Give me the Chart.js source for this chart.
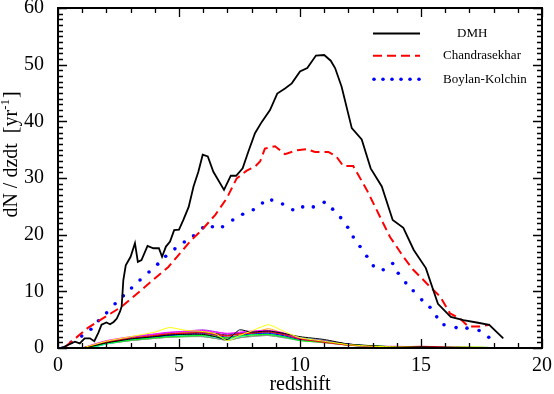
<!DOCTYPE html>
<html>
<head>
<meta charset="utf-8">
<script src="https://cdn.jsdelivr.net/npm/chart.js@4.4.1/dist/chart.umd.min.js"></script>
<style>
  html, body { margin: 0; padding: 0; background: #fff; }
  canvas { display: block; }
</style>
</head>
<body>
<canvas id="mergerChart" width="554" height="394"></canvas>
<script>
// ---- data ----
// DMH (solid black)
const zDMH = [0.15,0.5,0.7,0.9,1.1,1.32,1.5,1.67,1.8,2.0,2.15,2.3,2.43,2.56,2.63,2.7,2.8,3.0,3.18,3.3,3.45,3.7,3.94,4.17,4.3,4.46,4.63,4.8,5.0,5.18,5.4,5.6,5.8,5.98,6.19,6.42,6.86,7.14,7.36,7.63,7.86,8.14,8.42,8.76,9.06,9.38,9.66,10.0,10.3,10.66,11.0,11.27,11.45,11.72,12.14,12.55,12.92,13.38,13.83,14.27,14.7,15.2,15.7,16.23,16.75,17.3,17.82,18.4];
const nDMH = [0,0.7,1.1,0.8,1.7,1.7,1.2,2.7,4.1,4.5,4.2,4.6,5.2,6.4,7.3,12,14.6,16.1,18.5,15.2,15.5,18,17.6,17.6,16.1,17.9,18.8,20.8,20.9,22.6,24.9,28.5,31.1,34.1,33.8,31.1,27.9,30.4,30.4,31.7,34.6,37.9,39.9,42,44.9,45.8,46.7,48.8,49.4,51.6,51.7,50.7,49.4,46.1,38.8,36.8,31.7,28.5,22.6,21.2,17.3,14.1,7.8,5.5,4.9,4.5,4.1,1.7];

// Chandrasekhar (dashed red)
const zChandra = [0.3,1.25,2.63,3.6,4.56,5.52,5.94,6.5,6.97,7.38,7.8,8.14,8.35,8.55,8.97,9.38,9.86,10.28,10.62,11.17,11.5,11.79,12.2,12.76,13.3,13.72,14.27,14.68,15.1,15.37,15.79,16.2,16.61,16.95,17.44,17.85];
const nChandra = [0.2,3.6,7.3,10.8,14.3,19.1,20.8,23.5,26.4,29.9,31.3,32,32.9,35.2,35.6,34.2,34.9,35.1,34.6,34.6,33.8,32.1,32.1,27.9,23.2,19.6,16.1,13.8,12,10.8,9.1,6.1,5.2,3.8,3.8,4.1];

// Boylan-Kolchin (dotted blue)
const zBK = [0.18,0.54,0.98,1.36,1.67,2.01,2.36,2.7,3.04,3.39,3.76,4.12,4.45,4.83,5.22,5.6,5.98,6.38,6.8,7.22,7.63,8.07,8.45,8.83,9.28,9.7,10.11,10.55,11.0,11.35,11.68,11.97,12.2,12.48,12.76,13.03,13.44,13.83,14.06,14.37,14.68,15.03,15.37,15.65,15.95,16.45,16.9,17.4,17.8];
const nBK = [0,1.0,2.1,3.3,4.8,6.2,7.8,9.2,10.6,12,13.4,14.8,16.2,17.5,18.7,19.8,21.2,21.4,21.4,22.6,23.6,24.4,25.6,26.1,25.4,24.4,24.9,24.9,25.7,24.5,23,21.3,19.6,17.9,16.2,14.5,13.8,14.9,13.2,11.5,10.1,8.5,7.2,5.5,4.1,3.6,3.5,3.1,1.9];

// individual realisations (thin lines at the bottom)
const zSmall = [1,1.5,2,3,4,4.6,5.3,6,6.5,7,7.5,8,8.7,9.3,10,11,12,13,14,15,16,17,17.8];
const smallYellow    = [0,0.6,1.2,2.0,2.8,3.6,3.1,2.9,2.5,1.3,2.2,3.0,4.1,3.0,1.8,1.2,0.6,0.3,0.2,0.1,0.1,0.2,0.1];
const smallBlack     = [0,0.4,0.9,1.6,2.0,2.3,2.4,2.4,2.0,1.5,3.2,2.8,3.0,2.6,2.0,1.5,0.7,0.4,0.2,0.2,0.1,0.1,0.05];
const smallRed       = [0,0.5,1.0,1.7,2.2,2.5,2.6,2.7,2.4,2.1,2.5,2.6,2.9,2.4,1.6,1.0,0.5,0.3,0.2,0.3,0.2,0.1,0.05];
const smallGreen     = [0,0.3,0.8,1.4,1.8,2.0,2.1,2.2,2.0,1.8,2.1,2.3,2.4,2.0,1.3,1.0,0.6,0.4,0.2,0.1,0.1,0.1,0.05];
const smallBlue      = [0,0.4,0.9,1.6,2.0,2.2,2.5,2.6,2.3,1.9,2.2,2.5,2.6,2.2,1.5,1.2,0.7,0.3,0.2,0.2,0.1,0.1,0];
const smallMagenta   = [0,0.7,1.3,2.0,2.5,2.8,2.9,3.1,2.8,2.6,2.8,3.0,3.1,2.7,1.7,1.3,0.6,0.3,0.3,0.2,0.1,0.1,0];
const smallCyan      = [0,0.2,0.7,1.5,1.9,2.1,2.3,2.2,1.9,1.5,2.0,2.4,2.5,2.1,1.8,1.3,0.6,0.3,0.2,0.2,0.2,0.2,0.1];
const smallViolet    = [0,0.6,1.2,1.9,2.4,2.7,3.0,3.2,2.9,2.5,2.7,2.9,3.0,2.5,1.7,1.2,0.7,0.3,0.2,0.2,0.1,0.1,0];
const smallGrey      = [0,0.3,0.8,1.3,1.7,1.9,2.0,2.0,1.7,1.3,1.8,2.0,2.2,1.8,1.3,0.9,0.5,0.2,0.1,0.1,0.1,0,0];
const smallBrown     = [0,0.4,1.0,1.6,2.1,2.4,2.6,2.8,2.5,2.2,2.5,2.8,2.8,2.4,1.6,1.1,0.6,0.3,0.2,0.1,0.1,0.1,0];
const smallOrange    = [0,0.5,1.1,1.8,2.3,2.6,2.7,2.5,2.2,1.8,2.3,2.6,3.4,2.6,1.6,1.1,0.5,0.3,0.2,0.1,0.1,0.2,0.1];
const smallIndigo    = [0,0.5,1.1,1.8,2.2,2.5,2.8,2.9,2.6,2.3,2.6,2.7,2.8,2.4,1.7,1.2,0.6,0.3,0.2,0.2,0.1,0.1,0];
const smallTurquoise = [0,0.3,0.9,1.6,2.0,2.2,2.3,2.3,2.0,1.7,2.1,2.4,2.4,2.0,1.5,1.1,0.5,0.2,0.2,0.2,0.1,0.1,0.1];
const smallGreen4    = [0,0.2,0.7,1.3,1.7,1.9,2.0,2.0,1.7,1.4,1.8,2.1,2.2,1.9,1.4,1.0,0.5,0.3,0.2,0.1,0.1,0.1,0];
const smallMaroon    = [0,0.4,0.9,1.5,1.9,2.1,2.2,2.3,2.1,1.6,2.2,2.5,2.5,2.1,1.4,1.0,0.6,0.3,0.2,0.1,0.1,0.1,0];

const smallSeries = [smallYellow, smallBlack, smallRed, smallGreen, smallBlue, smallMagenta, smallCyan,
  smallViolet, smallGrey, smallBrown, smallOrange, smallIndigo, smallTurquoise, smallGreen4, smallMaroon];
const smallColors = ['#ffff00','#000000','#ff0000','#00ff00','#0000ff','#ff00ff','#00ffff',
  '#a020f0','#999999','#a52a2a','#ffa500','#4b0082','#40e0d0','#008b00','#800000'];

const seriesLabels = ['DMH', 'Chandrasekhar', 'Boylan-Kolchin'];

const SERIF = '"Liberation Serif", "Times New Roman", serif';

function pts(xs, ys) {
  return xs.map((x, i) => ({ x: x, y: ys[i] }));
}

let datasets = [
  { label: seriesLabels[0], data: pts(zDMH, nDMH), borderColor: '#000', borderWidth: 1.8,
    pointRadius: 0, tension: 0, fill: false },
  { label: seriesLabels[1], data: pts(zChandra, nChandra), borderColor: '#ff0000', borderWidth: 2,
    borderDash: [9, 5], pointRadius: 0, tension: 0, fill: false },
  { label: seriesLabels[2], data: pts(zBK, nBK), borderColor: '#0000ff', backgroundColor: '#0000ff',
    showLine: false, pointRadius: 1.8, pointBorderWidth: 0, pointStyle: 'circle' }
];
smallSeries.forEach((s, i) => {
  datasets.push({ label: '', data: pts(zSmall, s), borderColor: smallColors[i], borderWidth: 1,
    pointRadius: 0, tension: 0.2, fill: false });
});

// inward ticks on all four sides, frame, legend, y title
const framePlugin = {
  id: 'framePlugin',
  afterDraw(chart) {
    const ctx = chart.ctx;
    const a = chart.chartArea;
    const xs = chart.scales.x, ys = chart.scales.y;
    ctx.save();
    ctx.strokeStyle = '#000';
    ctx.lineWidth = 1.3;
    ctx.beginPath();
    for (let i = 0; i <= 20; i++) {
      const px = Math.round(xs.getPixelForValue(i)) + 0.5;
      const len = i % 5 === 0 ? 9 : 5;
      ctx.moveTo(px, a.bottom); ctx.lineTo(px, a.bottom - len);
      ctx.moveTo(px, a.top); ctx.lineTo(px, a.top + len);
    }
    for (let v = 0; v <= 60; v++) {
      const py = Math.round(ys.getPixelForValue(v)) + 0.5;
      const len = v % 10 === 0 ? 9 : 5;
      ctx.moveTo(a.left, py); ctx.lineTo(a.left + len, py);
      ctx.moveTo(a.right, py); ctx.lineTo(a.right - len, py);
    }
    ctx.stroke();
    ctx.lineWidth = 2;
    ctx.strokeRect(a.left, a.top, a.right - a.left, a.bottom - a.top);

    // legend
    ctx.font = '13px ' + SERIF;
    ctx.fillStyle = '#000';
    ctx.textBaseline = 'middle';
    const rows = [33.5, 55.7, 79.3];
    ctx.lineWidth = 1.8; ctx.strokeStyle = '#000'; ctx.setLineDash([]);
    ctx.beginPath(); ctx.moveTo(373, rows[0]); ctx.lineTo(420, rows[0]); ctx.stroke();
    ctx.lineWidth = 2; ctx.strokeStyle = '#ff0000'; ctx.setLineDash([9, 5]);
    ctx.beginPath(); ctx.moveTo(373, rows[1]); ctx.lineTo(420, rows[1]); ctx.stroke();
    ctx.setLineDash([]);
    ctx.fillStyle = '#0000ff';
    for (let k = 0; k < 6; k++) {
      ctx.beginPath(); ctx.arc(374 + k * 9, rows[2], 1.8, 0, Math.PI * 2); ctx.fill();
    }
    ctx.fillStyle = '#000';
    ctx.fillText(seriesLabels[0], 457, rows[0]);
    ctx.fillText(seriesLabels[1], 443, rows[1]);
    ctx.fillText(seriesLabels[2], 443, rows[2]);

    // y axis title with superscript
    ctx.translate(12, 155);
    ctx.rotate(-Math.PI / 2);
    const main = 'dN / dzdt  [yr';
    const sup = '-1';
    const tail = ']';
    ctx.font = '20px ' + SERIF;
    const w1 = ctx.measureText(main).width;
    const w3 = ctx.measureText(tail).width;
    ctx.font = '13px ' + SERIF;
    const w2 = ctx.measureText(sup).width;
    let x0 = -(w1 + w2 + w3) / 2;
    ctx.font = '20px ' + SERIF;
    ctx.textAlign = 'left';
    ctx.fillText(main, x0, 0);
    ctx.font = '13px ' + SERIF;
    ctx.fillText(sup, x0 + w1, -6);
    ctx.font = '20px ' + SERIF;
    ctx.fillText(tail, x0 + w1 + w2 + 1, 0);
    ctx.restore();
  }
};

new Chart(document.getElementById('mergerChart'), {
  type: 'line',
  data: { datasets: datasets },
  options: {
    responsive: false,
    animation: false,
    devicePixelRatio: 1,
    layout: { padding: { left: 0, top: 8, right: 12, bottom: 0 } },
    plugins: { legend: { display: false }, tooltip: { enabled: false } },
    scales: {
      x: {
        type: 'linear', min: 0, max: 20,
        grid: { display: false }, border: { display: false },
        ticks: { stepSize: 5, color: '#000', font: { family: SERIF, size: 20, lineHeight: 1 }, padding: 0, maxRotation: 0 },
        title: { display: true, text: 'redshift', color: '#000', font: { family: SERIF, size: 20, lineHeight: 1 }, padding: { top: 0, bottom: -1 } },
        afterFit(s) { s.height = 46; s.paddingLeft = 0; s.paddingRight = 0; }
      },
      y: {
        min: 0, max: 60,
        grid: { display: false }, border: { display: false },
        ticks: { stepSize: 10, color: '#000', font: { family: SERIF, size: 20, lineHeight: 1 }, padding: 6 },
        afterFit(s) { s.width = 58; s.paddingTop = 0; s.paddingBottom = 0; }
      }
    }
  },
  plugins: [framePlugin]
});
</script>
</body>
</html>
